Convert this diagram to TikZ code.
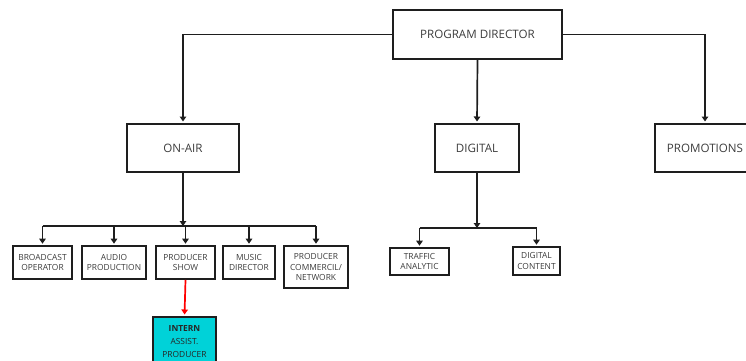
\documentclass[tikz,border=0pt]{standalone}
\usepackage{fontspec}
\setmainfont{Open Sans}
\usetikzlibrary{arrows.meta}
\definecolor{ln}{HTML}{1E1E1E}
\definecolor{tx}{HTML}{3C3C3C}
\definecolor{cy}{HTML}{00D2D8}
\begin{document}
\begin{tikzpicture}[x=1pt,y=-1pt,
  bigbox/.style={draw=ln,line width=2pt,text=tx,font=\fontsize{11.6}{13}\selectfont,inner sep=0pt,align=center},
  smallbox/.style={draw=ln,line width=1.6pt,text=tx,font=\fontsize{8.4}{10.6}\selectfont,inner sep=0pt,align=center},
  arr/.style={draw=ln,line width=1.7pt,-{Triangle[length=5pt,width=6.5pt]},shorten >=1.5pt},
  ln/.style={draw=ln,line width=1.7pt}]
\useasboundingbox (0,0) rectangle (746,360);
\begin{scope}
\clip (0,0) rectangle (746,360);
\node[bigbox,minimum width=169pt,minimum height=49pt] (pd) at (477.5,34.5) {PROGRAM DIRECTOR};
\node[bigbox,minimum width=112pt,minimum height=48pt] (onair) at (183,148) {ON-AIR};
\node[bigbox,minimum width=84pt,minimum height=48pt] (digital) at (477,148) {DIGITAL};
\node[bigbox,minimum width=100pt,minimum height=48pt] (promo) at (705,148) {PROMOTIONS};
\node[smallbox,minimum width=59pt,minimum height=33pt] (b1) at (42.5,262.5) {BROADCAST\\OPERATOR};
\node[smallbox,minimum width=64pt,minimum height=33pt] (b2) at (114,262.5) {AUDIO\\PRODUCTION};
\node[smallbox,minimum width=59pt,minimum height=33pt] (b3) at (185.5,262.5) {PRODUCER\\SHOW};
\node[smallbox,minimum width=52pt,minimum height=33pt] (b4) at (249,262.5) {MUSIC\\DIRECTOR};
\node[smallbox,minimum width=64pt,minimum height=42pt] (b5) at (316,267) {PRODUCER\\COMMERCIL/\\NETWORK};
\node[smallbox,fill=cy,minimum width=63pt,minimum height=50pt,anchor=north,text=black!85,font=\fontsize{8.4}{12.8}\selectfont] (intern) at (184.5,316) {\textbf{INTERN}\\ASSIST.\\PRODUCER};
\node[smallbox,minimum width=59pt,minimum height=27pt] (traffic) at (419.5,261.5) {TRAFFIC\\ANALYTIC};
\node[smallbox,minimum width=47pt,minimum height=28pt] (dcontent) at (536.5,261) {DIGITAL\\CONTENT};
\draw[arr] (pd.west) -| (onair.north);
\draw[arr] (pd.south) -- (digital.north);
\draw[arr] (pd.east) -| (promo.north);
\coordinate (oab) at (183,226);
\coordinate (oal) at (b1.north |- oab);
\coordinate (oar) at (b5.north |- oab);
\draw[arr,shorten >=0pt] (onair.south) -- (oab);
\draw[ln] (oal) -- (oar);
\foreach \b in {b1,b2,b3,b4,b5} \draw[arr] (\b.north |- oab) -- (\b.north);
\draw[arr,draw=red] (b3.south) -- (intern.north);
\coordinate (dgb) at (477,228);
\draw[arr,shorten >=0pt] (digital.south) -- (dgb);
\draw[ln] (traffic.north |- dgb) -- (dcontent.north |- dgb);
\draw[arr] (traffic.north |- dgb) -- (traffic.north);
\draw[arr] (dcontent.north |- dgb) -- (dcontent.north);
\end{scope}
\end{tikzpicture}
\end{document}
